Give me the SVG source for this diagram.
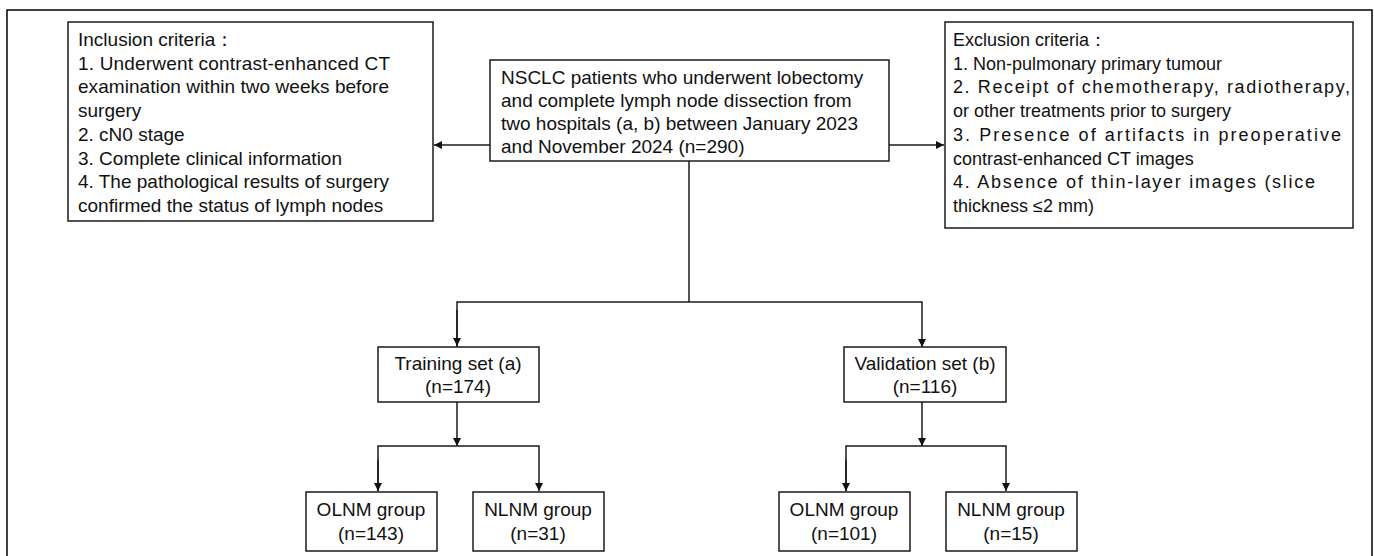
<svg xmlns="http://www.w3.org/2000/svg" width="1374" height="556" viewBox="0 0 1374 556">
<style>
.box{fill:#fff;stroke:#1a1a1a;stroke-width:1.5}
.frame{fill:none;stroke:#000;stroke-width:1.5}
.ln{fill:none;stroke:#1a1a1a;stroke-width:1.5}
text{font-family:"Liberation Sans",Arial,sans-serif;font-size:19px;fill:#111}
.ex{font-size:18px}
.c{text-anchor:middle}
</style>
<defs>
<marker id="ah" viewBox="0 0 10 10" refX="10" refY="5" markerWidth="8" markerHeight="8" markerUnits="userSpaceOnUse" orient="auto">
<path d="M0,0 L10,5 L0,10 z" fill="#111"/>
</marker>
</defs>
<rect class="frame" x="7" y="10" width="1365" height="560"/>
<g id="connectors">
<line class="ln" x1="490" y1="145" x2="434" y2="145" marker-end="url(#ah)"/>
<line class="ln" x1="889" y1="145" x2="944" y2="145" marker-end="url(#ah)"/>
<polyline class="ln" points="689,161 689,302"/>
<polyline class="ln" points="457,347 457,302 922,302 922,347" marker-end="url(#ah)"/>
<line class="ln" x1="457" y1="310" x2="457" y2="346" marker-end="url(#ah)"/>
<line class="ln" x1="457" y1="402" x2="457" y2="446" marker-end="url(#ah)"/>
<polyline class="ln" points="378,491 378,446 539,446 539,491" marker-end="url(#ah)"/>
<line class="ln" x1="378" y1="460" x2="378" y2="491" marker-end="url(#ah)"/>
<line class="ln" x1="922" y1="402" x2="922" y2="446" marker-end="url(#ah)"/>
<polyline class="ln" points="846,491 846,446 1006,446 1006,491" marker-end="url(#ah)"/>
<line class="ln" x1="846" y1="460" x2="846" y2="491" marker-end="url(#ah)"/>
</g>
<g id="inclusion">
<rect class="box" x="68" y="22" width="365" height="199"/>
<text x="78" y="46">Inclusion criteria：</text>
<text x="78" y="70" textLength="312" lengthAdjust="spacing">1. Underwent contrast-enhanced CT</text>
<text x="78" y="93" textLength="311" lengthAdjust="spacing">examination within two weeks before</text>
<text x="78" y="117">surgery</text>
<text x="78" y="141">2. cN0 stage</text>
<text x="78" y="165">3. Complete clinical information</text>
<text x="78" y="188" textLength="311" lengthAdjust="spacing">4. The pathological results of surgery</text>
<text x="78" y="212">confirmed the status of lymph nodes</text>
</g>
<g id="source">
<rect class="box" x="490" y="60" width="399" height="101"/>
<text x="501" y="84">NSCLC patients who underwent lobectomy</text>
<text x="501" y="107">and complete lymph node dissection from</text>
<text x="501" y="130">two hospitals (a, b) between January 2023</text>
<text x="501" y="153">and November 2024 (n=290)</text>
</g>
<g id="exclusion">
<rect class="box" x="945" y="22" width="408" height="206"/>
<text class="ex" x="953" y="46">Exclusion criteria：</text>
<text class="ex" x="953" y="70">1. Non-pulmonary primary tumour</text>
<text class="ex" x="953" y="93" textLength="397" lengthAdjust="spacing">2. Receipt of chemotherapy, radiotherapy,</text>
<text class="ex" x="953" y="117">or other treatments prior to surgery</text>
<text class="ex" x="953" y="141" textLength="388" lengthAdjust="spacing">3. Presence of artifacts in preoperative</text>
<text class="ex" x="953" y="165">contrast-enhanced CT images</text>
<text class="ex" x="953" y="188" textLength="362" lengthAdjust="spacing">4. Absence of thin-layer images (slice</text>
<text class="ex" x="953" y="212">thickness ≤2 mm)</text>
</g>
<g id="training">
<rect class="box" x="378" y="347" width="161" height="55"/>
<text class="c" x="458" y="370">Training set (a)</text>
<text class="c" x="458" y="393">(n=174)</text>
</g>
<g id="validation">
<rect class="box" x="844" y="347" width="162" height="55"/>
<text class="c" x="925" y="370">Validation set (b)</text>
<text class="c" x="925" y="393">(n=116)</text>
</g>
<g id="olnm-a">
<rect class="box" x="306" y="492" width="131" height="59"/>
<text class="c" x="371" y="516">OLNM group</text>
<text class="c" x="371" y="540">(n=143)</text>
</g>
<g id="nlnm-a">
<rect class="box" x="473" y="492" width="131" height="59"/>
<text class="c" x="538" y="516">NLNM group</text>
<text class="c" x="538" y="540">(n=31)</text>
</g>
<g id="olnm-b">
<rect class="box" x="779" y="492" width="131" height="59"/>
<text class="c" x="844" y="516">OLNM group</text>
<text class="c" x="844" y="540">(n=101)</text>
</g>
<g id="nlnm-b">
<rect class="box" x="946" y="492" width="131" height="59"/>
<text class="c" x="1011" y="516">NLNM group</text>
<text class="c" x="1011" y="540">(n=15)</text>
</g>
</svg>
